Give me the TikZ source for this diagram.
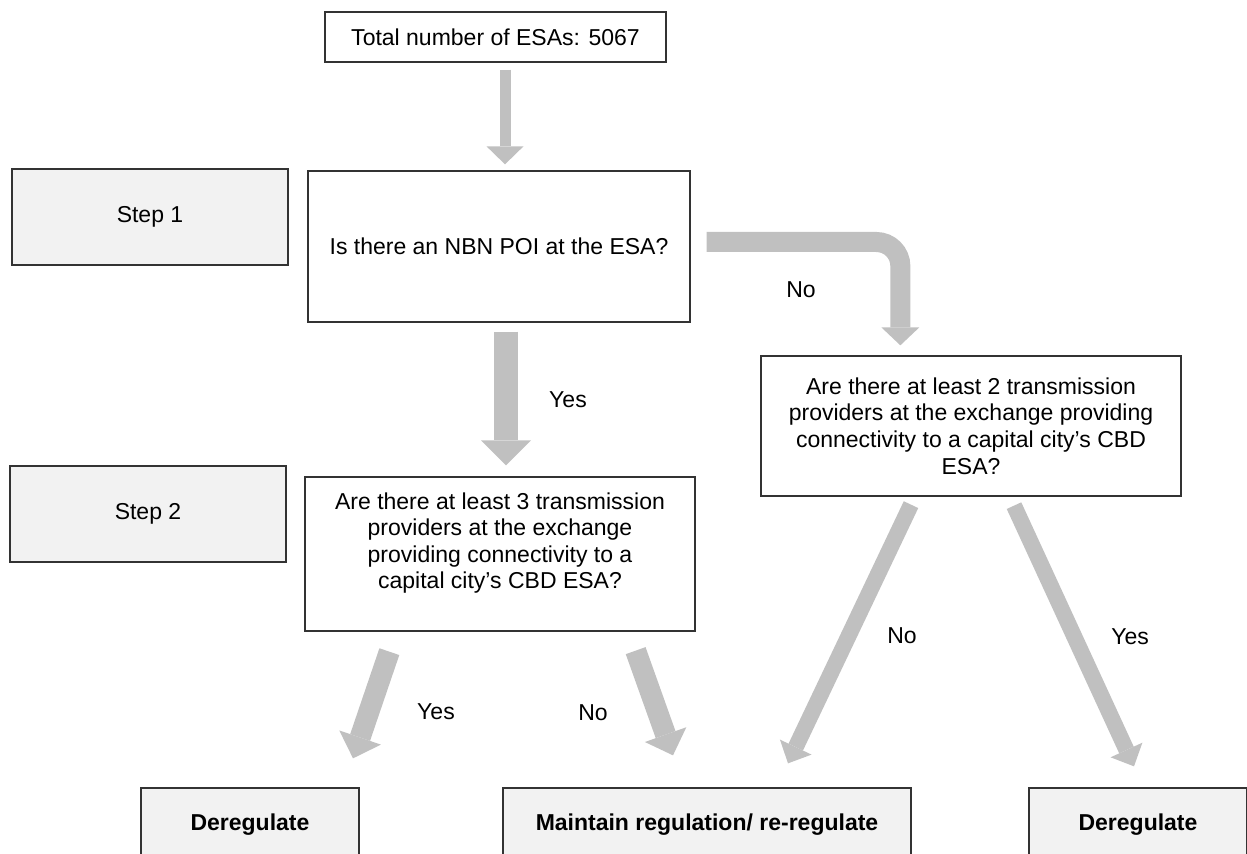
\documentclass[tikz,border=0pt]{standalone}
\usepackage{fontspec}
\setmainfont{Liberation Sans}
\usepackage{tikz}
\usetikzlibrary{arrows.meta,calc}
\definecolor{frame}{HTML}{333333}
\definecolor{panel}{HTML}{F2F2F2}
\definecolor{flowgray}{HTML}{C0C0C0}

\begin{document}
\begin{tikzpicture}[x=0.5pt,y=-0.5pt,every node/.style={font=\fontsize{11.5}{13.3}\selectfont},
  box/.style={draw=frame,line width=0.65pt,fill=white,rectangle,inner sep=3pt,align=center},
  stepbox/.style={box,fill=panel,minimum width=138pt,minimum height=48pt},
  outcome/.style={box,fill=panel,minimum height=37pt,font=\fontsize{11.5}{13.3}\selectfont\bfseries},
  flow/.style n args={3}{draw=flowgray,line width=#1,-{Triangle[width=#2,length=#3,line width=0pt]}}]
\useasboundingbox (0,0) rectangle (1247,854);
\clip (0,0) rectangle (1247,854);
\node[box,minimum width=170.5pt,minimum height=25pt] (T) at (495.5,37) {Total number of ESAs: 5067};
\node[stepbox] (S1) at (150,217) {Step 1};
\node[box,minimum width=191pt,minimum height=75.5pt] (Q1) at (499,246.5) {Is there an NBN POI at the ESA?};
\node[box,minimum width=210pt,minimum height=70pt] (Q2) at (971,426) {Are there at least 2 transmission\\providers at the exchange providing\\connectivity to a capital city’s CBD\\ESA?};
\node[stepbox] (S2) at (148,514) {Step 2};
\node[box,minimum width=195pt,minimum height=77pt] (Q3) at (500,554) {Are there at least 3 transmission\\providers at the exchange\\providing connectivity to a\\capital city’s CBD ESA?\\\mbox{}};
\node[outcome,minimum width=109pt] (D1) at (250,825) {Deregulate};
\node[outcome,minimum width=204pt] (M) at (707,825) {Maintain regulation/ re-regulate};
\node[outcome,minimum width=109pt] (D2) at (1138,825) {Deregulate};
% branch labels
\node (yes1) at (568,400) {Yes};
\node (no1) at (801,290) {No};
\node (yes3) at (436,712) {Yes};
\node (no3) at (593,713) {No};
\node (no2) at (902,636) {No};
\node (yes2) at (1130,637) {Yes};
% grey block arrows
\draw[flow={5.5pt}{18.5pt}{9pt}] ($(T.south)+(9.5,7)$) -- ($(Q1.north)+(6,-6)$);
\draw[flow={12pt}{25pt}{12.5pt}] ($(Q1.south)+(7,9)$) -- ($(Q3.north)+(6,-11)$);
\draw[flow={10pt}{19pt}{9pt},rounded corners=12pt] ($(Q1.east)+(16,-4.5)$) -| ($(Q2.north west)+(140,-10)$);
\draw[flow={10.5pt}{22pt}{11pt}] ($(Q3.south west)+(85,20)$) -- ($(D1.north)+(103,-29)$);
\draw[flow={10.5pt}{22pt}{11pt}] ($(Q3.south east)+(-60,19)$) -- ($(M.north)+(-34,-32)$);
\draw[flow={8pt}{17.5pt}{9pt}] ($(Q2.south)+(-60,8)$) -- ($(M.north)+(81,-24)$);
\draw[flow={8pt}{17.5pt}{9pt}] ($(Q2.south)+(43,9)$) -- ($(D2.north)+(-4,-21)$);
\end{tikzpicture}
\end{document}
